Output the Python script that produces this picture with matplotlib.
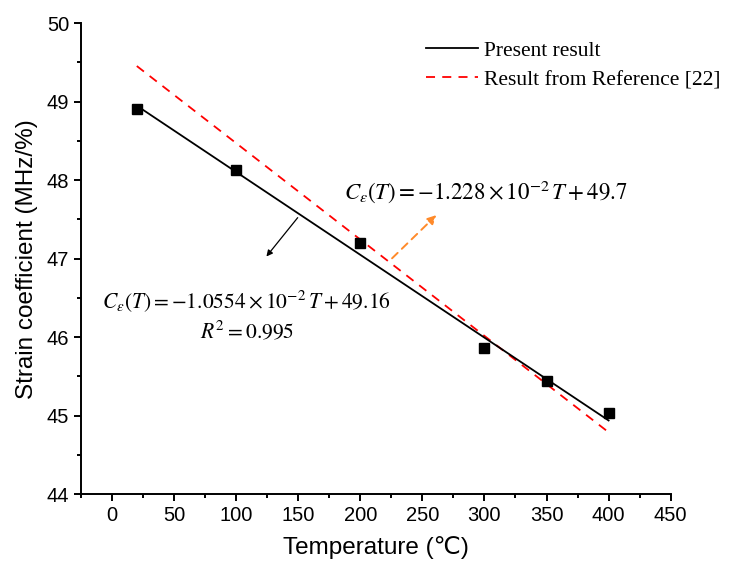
import matplotlib
matplotlib.use("Agg")
import matplotlib.pyplot as plt
import numpy as np
from matplotlib.ticker import MultipleLocator

plt.rcParams['mathtext.fontset'] = 'stix'

temps = [20, 100, 200, 300, 350, 400]
strain = [48.91, 48.13, 47.20, 45.86, 45.44, 45.03]
fit_slope, fit_icpt = -1.0554e-2, 49.16
ref_slope, ref_icpt = -1.228e-2, 49.7
t_range = [20, 400]

fig = plt.figure(figsize=(7.29, 5.66), dpi=100)
ax = fig.add_axes([0.111, 0.127, 0.809, 0.832])

tr = np.array(t_range)
ax.plot(tr, fit_slope * tr + fit_icpt, color='black', lw=1.3, label='Present result', zorder=3)
ax.plot(tr, ref_slope * tr + ref_icpt, color='red', lw=1.3, ls=(0, (5, 4)),
        label='Result from Reference [22]', zorder=2)
ax.plot(temps, strain, 's', color='black', ms=7, zorder=4)

ax.set_xlim(-25, 450)
ax.set_ylim(44, 50)
ax.xaxis.set_major_locator(MultipleLocator(50))
ax.xaxis.set_minor_locator(MultipleLocator(25))
ax.yaxis.set_major_locator(MultipleLocator(1))
ax.yaxis.set_minor_locator(MultipleLocator(0.5))
for s in ['top', 'right']:
    ax.spines[s].set_visible(False)
for s in ['left', 'bottom']:
    ax.spines[s].set_linewidth(1.4)
ax.tick_params(which='major', direction='out', length=5, width=1.4, labelsize=14.5,
               labelfontfamily='Liberation Sans')
ax.tick_params(which='minor', direction='out', length=3, width=1.4)

ax.set_xlabel('Temperature (℃)', fontsize=17.5, family=['Liberation Sans', 'DejaVu Sans'], labelpad=8)
ax.set_ylabel('Strain coefficient (MHz/%)', fontsize=17.5, family='Liberation Sans', labelpad=6)

leg = ax.legend(loc='upper right', bbox_to_anchor=(1.107, 0.99), frameon=False,
                prop={'family': 'Liberation Serif', 'size': 15.5}, handlelength=2.4,
                handletextpad=0.3, labelspacing=0.42, borderaxespad=0.2)

ax.text(108, 46.46, r'$C_{\varepsilon}(T) = -1.0554\times10^{-2}\,T + 49.16$', fontsize=15.5,
        ha='center', va='center')
ax.text(109, 46.08, r'$R^2 = 0.995$', fontsize=15.5, ha='center', va='center')
ax.text(301, 47.85, r'$C_{\varepsilon}(T) = -1.228\times10^{-2}\,T + 49.7$', fontsize=16.5,
        ha='center', va='center')

ax.annotate('', xy=(123, 47.0), xytext=(151, 47.55),
            arrowprops=dict(arrowstyle='-|>', color='black', lw=0.9, mutation_scale=9))
ax.annotate('', xy=(263, 47.58), xytext=(224, 46.98),
            arrowprops=dict(arrowstyle='-|>', color='#ff8a2a', lw=1.4, ls=(0, (4, 3)),
                            mutation_scale=13))

fig.savefig('out.png', dpi=100)
